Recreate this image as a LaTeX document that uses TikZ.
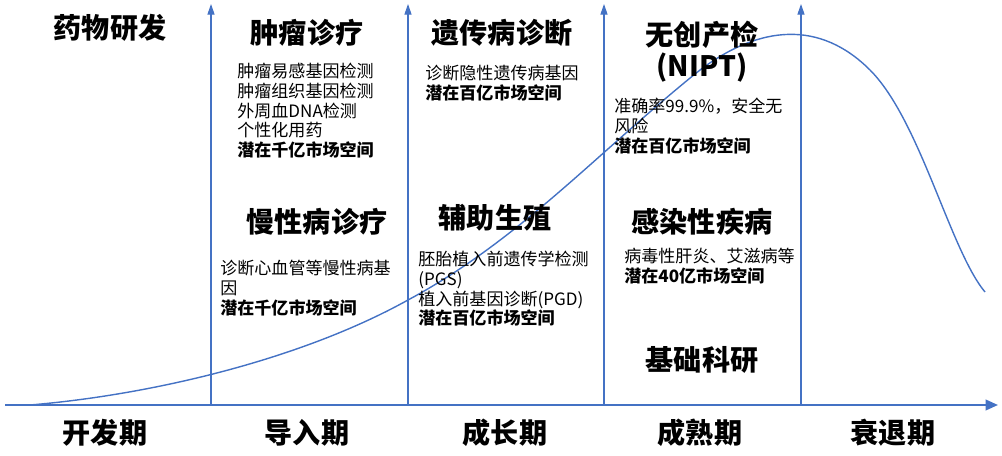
\documentclass[tikz,border=0pt]{standalone}
\usepackage{fontspec}
\setmainfont{Noto Sans CJK SC}
\usetikzlibrary{arrows.meta}
\definecolor{ax}{HTML}{4472C4}
\tikzset{
 axis/.style={draw=ax,line width=1.1pt,-{Triangle[length=7pt,width=6pt]}},
 vax/.style={draw=ax,line width=0.6pt,-{Triangle[length=6pt,width=4pt]}},
 ttl/.style={font=\fontsize{16}{18}\selectfont\bfseries,inner sep=0},
 per/.style={font=\fontsize{16}{18}\selectfont\bfseries,inner sep=0},
 body/.style={font=\fontsize{9.7}{11.2}\selectfont,anchor=north west,align=left,inner sep=0},
}
\begin{document}
\begin{tikzpicture}[x=0.02cm,y=-0.02cm]
\useasboundingbox (0,0) rectangle (1002,456);
\coordinate (a0) at (5,405); \coordinate (a1) at (998,405);
\draw[axis] (a0) -- (a1);
\foreach \x/\n in {211/v1,408/v2,604/v3,801/v4}{
 \coordinate (\n b) at (\x,405); \coordinate (\n t) at (\x,4);
 \draw[vax] (\n b) -- (\n t);}
\draw[ax,line width=0.8pt] (30,405) .. controls (150,395) and (300,360) .. (408,300)
 .. controls (520,240) and (600,150) .. (700,70)
 .. controls (760,25) and (820,20) .. (870,70)
 .. controls (920,120) and (950,250) .. (985,292);
\node[ttl] (t0) at (110,28) {药物研发};
\node[ttl] (t1) at (307,33) {肿瘤诊疗};
\node[body] (b1) at (237,63) {肿瘤易感基因检测\\肿瘤组织基因检测\\外周血DNA检测\\个性化用药\\\textbf{潜在千亿市场空间}};
\node[ttl] (t2) at (317,222) {慢性病诊疗};
\node[body] (b2) at (220,260) {诊断心血管等慢性病基\\因\\\textbf{潜在千亿市场空间}};
\node[ttl] (t3) at (502,33) {遗传病诊断};
\node[body] (b3) at (425,65) {诊断隐性遗传病基因\\\textbf{潜在百亿市场空间}};
\node[ttl] (t4) at (495,218) {辅助生殖};
\node[body] (b4) at (418,251) {胚胎植入前遗传学检测\\(PGS)\\植入前基因诊断(PGD)\\\textbf{潜在百亿市场空间}};
\node[ttl] (t5) at (702,35) {无创产检};
\node[ttl] (t5b) at (702,68) {(NIPT)};
\node[body] (b5) at (614,98) {准确率99.9\%，安全无\\风险\\\textbf{潜在百亿市场空间}};
\node[ttl] (t6) at (702,222) {感染性疾病};
\node[body] (b6) at (624,248) {病毒性肝炎、艾滋病等\\\textbf{潜在40亿市场空间}};
\node[ttl] (t7) at (702,360) {基础科研};
\node[per] (p1) at (105,433) {开发期};
\node[per] (p2) at (307,433) {导入期};
\node[per] (p3) at (505,433) {成长期};
\node[per] (p4) at (700,433) {成熟期};
\node[per] (p5) at (893,433) {衰退期};
\end{tikzpicture}
\end{document}
